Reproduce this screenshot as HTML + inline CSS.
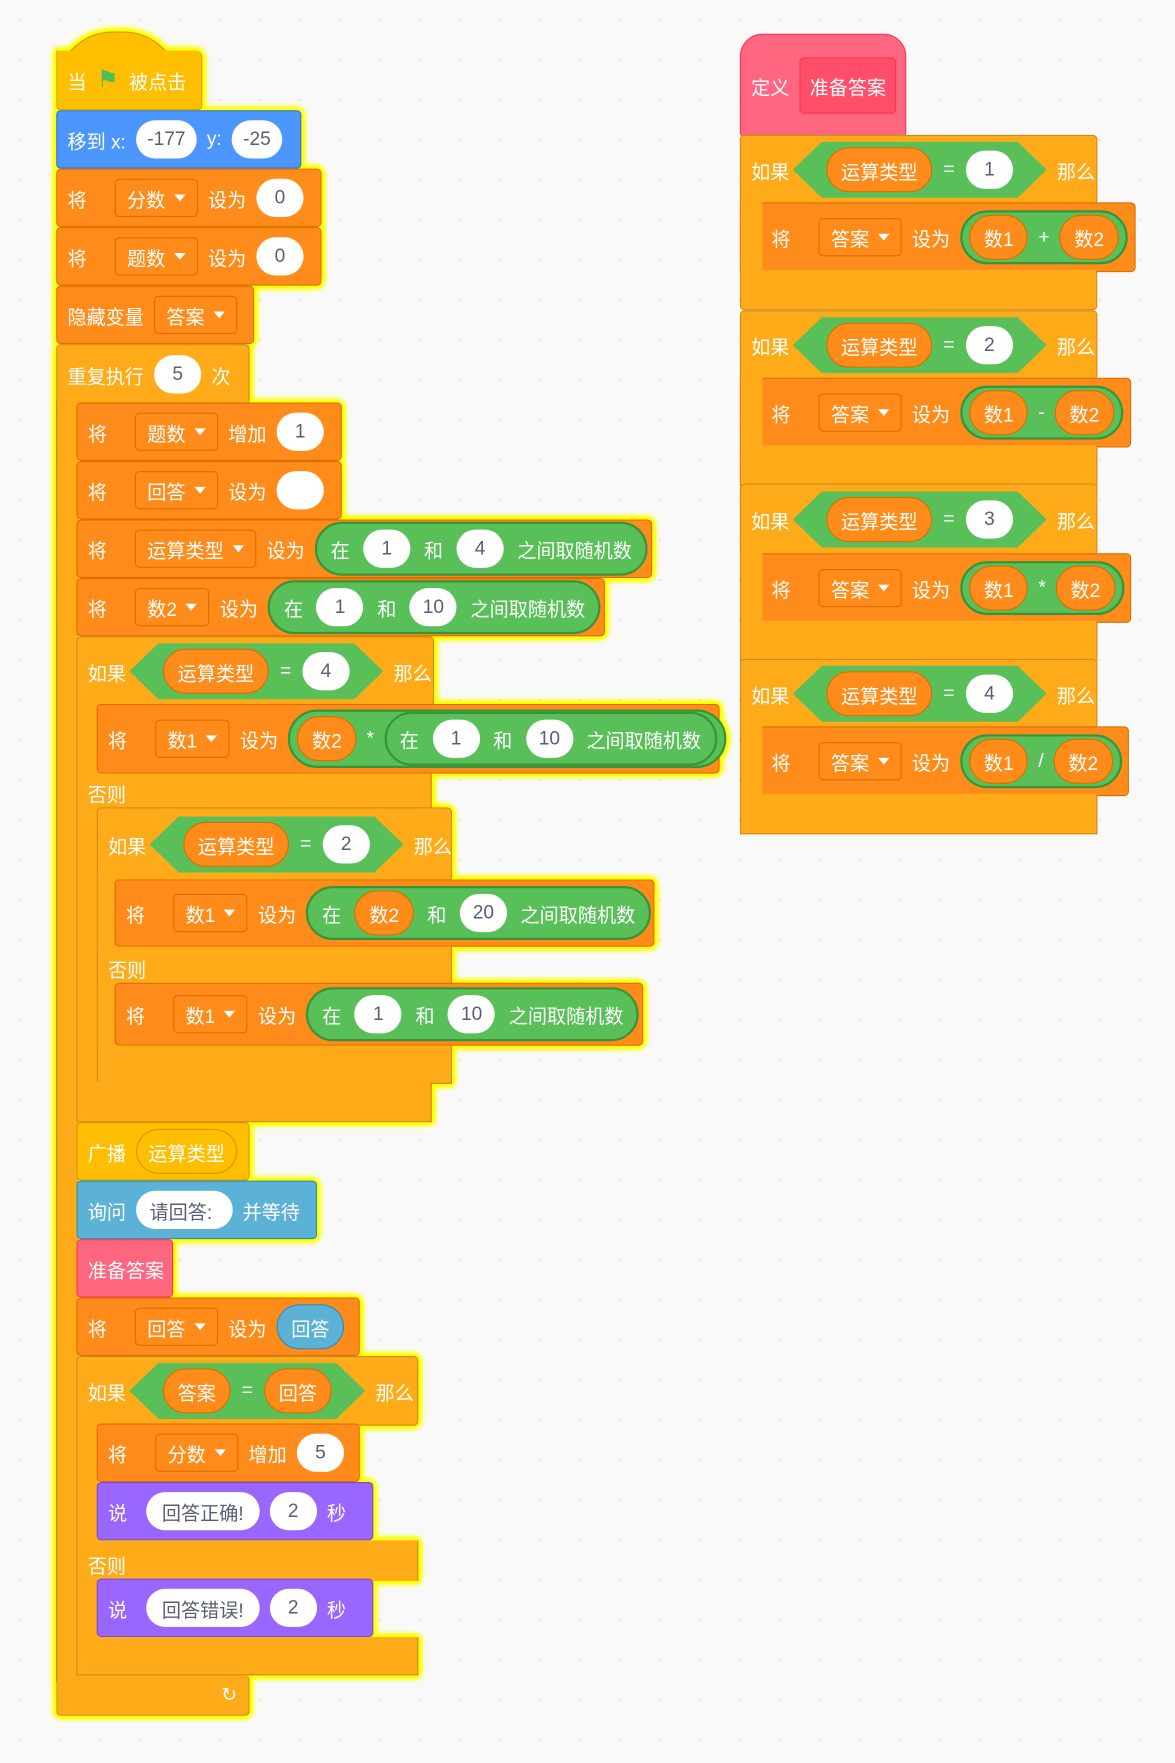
<!DOCTYPE html>
<html><head><meta charset="utf-8">
<style>
html,body{margin:0;padding:0;}
body{width:1175px;height:1763px;overflow:hidden;background:#f9f9f9;
background-image:radial-gradient(#e4e4e4 1px,transparent 1.5px);background-size:40px 40px;}
#s{position:absolute;left:0;top:0;width:1045px;height:1568px;transform:scale(1.12440);transform-origin:0 0;
font-family:"Liberation Sans","Noto Sans CJK SC",sans-serif;font-size:17px;color:#fff;}
.g{position:absolute;left:0;top:0;}
#L{filter:drop-shadow(0 0 2px #ff0) drop-shadow(0 0 2px #ff0) drop-shadow(0 0 2px #ff0) drop-shadow(0 0 1px #ff0);}
.b{position:absolute;box-sizing:border-box;display:flex;align-items:center;gap:9px;padding-left:9px;border-radius:4px;white-space:nowrap;}
.p{position:absolute;box-sizing:border-box;}
.ev{background:#ffbf00;border:1px solid #cc9900}
.mo{background:#4c97ff;border:1px solid #3373cc}
.va{background:#ff8c1a;border:1px solid #db6e00}
.co{background:#ffab19;border:1px solid #cf8b17}
.op{background:#59c059;border:1px solid #389438}
.se{background:#5cb1d6;border:1px solid #2e8eb8}
.pk{background:#ff6680;border:1px solid #ff3355}
.lo{background:#9966ff;border:1px solid #774dcb}
.n{background:#fff;color:#575e75;border-radius:17px;height:34px;min-width:42px;padding:0 10px;box-sizing:border-box;display:flex;align-items:center;justify-content:center;}
.dd{background:#ff8c1a;border:1px solid #db6e00;border-radius:4px;height:34px;padding:0 10px;display:flex;align-items:center;gap:8px;box-sizing:border-box}
.dd:after{content:"";border-left:5px solid transparent;border-right:5px solid transparent;border-top:6px solid #fff;}
.r{background:#ff8c1a;border:1px solid #db6e00;border-radius:20px;height:40px;padding:0 12px;display:flex;align-items:center;box-sizing:border-box}
.rs{background:#5cb1d6;border:1px solid #2e8eb8;border-radius:20px;height:40px;padding:0 12px;display:flex;align-items:center;box-sizing:border-box}
.ro{background:#59c059;border:2px solid #389438;border-radius:24px;height:48px;padding:0 12px;display:flex;align-items:center;gap:12px;box-sizing:border-box}
.ro2{padding:0 6px;gap:9px}
.hx{background:#59c059;height:50px;padding:0 30px;display:flex;align-items:center;gap:10px;clip-path:polygon(0 50%,26px 0,calc(100% - 26px) 0,100% 50%,calc(100% - 26px) 100%,26px 100%);}
</style></head><body>
<div id="s">
<div class="g" id="L">
<div class="p ev" style="left:50px;top:28px;width:110px;height:50px;border-radius:55px 55px 0 0;border-bottom:none"></div>
<div class="b ev" style="left:50px;top:45px;width:130px;height:53px;border-top:none;border-radius:0 6px 4px 4px">当 <span style="color:#4cbf56;font-size:22px">⚑</span> 被点击</div>
<div class="b mo" style="left:50px;top:98px;width:218px;height:52px">移到 x: <span class="n">-177</span> y: <span class="n">-25</span></div>
<div class="b va" style="left:50px;top:150px;width:236px;height:52px">将 <span class="dd" style="margin-left:16px">分数</span> 设为 <span class="n">0</span></div>
<div class="b va" style="left:50px;top:202px;width:236px;height:52px">将 <span class="dd" style="margin-left:16px">题数</span> 设为 <span class="n">0</span></div>
<div class="b va" style="left:50px;top:254px;width:176px;height:52px">隐藏变量 <span class="dd">答案</span></div>
<div class="b co" style="left:50px;top:306px;width:172px;height:54px">重复执行 <span class="n">5</span> 次</div>
<div class="p co" style="left:50px;top:356px;width:20px;height:1140px;border-top:none;border-bottom:none;border-right:none;border-radius:0"></div>
<div class="b co" style="left:50px;top:1490px;width:172px;height:36px;justify-content:flex-end;padding-right:10px;border-top:none">↻</div>
<div class="b va" style="left:68px;top:358px;width:236px;height:52px">将 <span class="dd" style="margin-left:16px">题数</span> 增加 <span class="n">1</span></div>
<div class="b va" style="left:68px;top:410px;width:236px;height:52px">将 <span class="dd" style="margin-left:16px">回答</span> 设为 <span class="n"></span></div>
<div class="b va" style="left:68px;top:462px;width:512px;height:52px">将 <span class="dd" style="margin-left:16px">运算类型</span> 设为 <span class="ro">在 <span class="n">1</span> 和 <span class="n">4</span> 之间取随机数</span></div>
<div class="b va" style="left:68px;top:514px;width:470px;height:52px">将 <span class="dd" style="margin-left:16px">数2</span> 设为 <span class="ro">在 <span class="n">1</span> 和 <span class="n">10</span> 之间取随机数</span></div>
<div class="b co" style="left:68px;top:566px;width:318px;height:62px">如果 <span class="hx" style="margin-left:-6px"><span class="r">运算类型</span> = <span class="n">4</span></span> 那么</div>
<div class="p co" style="left:68px;top:624px;width:20px;height:340px;border-top:none;border-bottom:none;border-right:none;border-radius:0"></div>
<div class="b va" style="left:86px;top:626px;width:554px;height:62px">将 <span class="dd" style="margin-left:16px">数1</span> 设为 <span class="ro ro2" style="height:52px;border-radius:26px"><span class="r">数2</span> * <span class="ro">在 <span class="n">1</span> 和 <span class="n">10</span> 之间取随机数</span></span></div>
<div class="b co" style="left:68px;top:688px;width:316px;height:32px;border-top:none;border-bottom:none;border-radius:0;align-items:flex-end;padding-bottom:2px">否则</div>
<div class="b co" style="left:86px;top:718px;width:316px;height:66px">如果 <span class="hx" style="margin-left:-6px"><span class="r">运算类型</span> = <span class="n">2</span></span> 那么</div>
<div class="p co" style="left:86px;top:780px;width:18px;height:152px;border-top:none;border-bottom:none;border-right:none;border-radius:0"></div>
<div class="b va" style="left:102px;top:782px;width:480px;height:60px">将 <span class="dd" style="margin-left:16px">数1</span> 设为 <span class="ro">在 <span class="r">数2</span> 和 <span class="n">20</span> 之间取随机数</span></div>
<div class="b co" style="left:86px;top:842px;width:316px;height:34px;border-top:none;border-bottom:none;border-radius:0;align-items:flex-end;padding-bottom:2px">否则</div>
<div class="b va" style="left:102px;top:874px;width:470px;height:56px">将 <span class="dd" style="margin-left:16px">数1</span> 设为 <span class="ro">在 <span class="n">1</span> 和 <span class="n">10</span> 之间取随机数</span></div>
<div class="p co" style="left:86px;top:930px;width:316px;height:34px;border-top:none"></div>
<div class="p co" style="left:68px;top:962px;width:316px;height:36px;border-top:none"></div>
<div class="b ev" style="left:68px;top:998px;width:154px;height:52px">广播 <span class="r" style="background:#ffbf00;border-color:#cc9900;padding:0 10px">运算类型</span></div>
<div class="b se" style="left:68px;top:1050px;width:214px;height:52px">询问 <span class="n" style="padding:0 18px 0 12px">请回答:</span> 并等待</div>
<div class="b pk" style="left:68px;top:1102px;width:86px;height:52px">准备答案</div>
<div class="b va" style="left:68px;top:1154px;width:252px;height:52px">将 <span class="dd" style="margin-left:16px">回答</span> 设为 <span class="rs">回答</span></div>
<div class="b co" style="left:68px;top:1206px;width:304px;height:62px">如果 <span class="hx" style="margin-left:-6px"><span class="r">答案</span> = <span class="r">回答</span></span> 那么</div>
<div class="p co" style="left:68px;top:1264px;width:20px;height:196px;border-top:none;border-bottom:none;border-right:none;border-radius:0"></div>
<div class="b va" style="left:86px;top:1266px;width:234px;height:52px">将 <span class="dd" style="margin-left:16px">分数</span> 增加 <span class="n">5</span></div>
<div class="b lo" style="left:86px;top:1318px;width:246px;height:52px">说 <span class="n" style="margin-left:8px;padding:0 14px">回答正确!</span> <span class="n">2</span> 秒</div>
<div class="b co" style="left:68px;top:1370px;width:304px;height:36px;border-top:none;border-bottom:none;border-radius:0;align-items:flex-end;padding-bottom:2px">否则</div>
<div class="b lo" style="left:86px;top:1404px;width:246px;height:52px">说 <span class="n" style="margin-left:8px;padding:0 14px">回答错误!</span> <span class="n">2</span> 秒</div>
<div class="p co" style="left:68px;top:1456px;width:304px;height:34px;border-top:none"></div>
</div>

<div class="g">
<div class="b pk" style="left:658px;top:30px;width:148px;height:92px;border-radius:20px 20px 4px 4px">定义 <span style="background:#ff4d6a;border:1px solid #ff3355;border-radius:4px;height:48px;padding:0 8px;display:flex;align-items:center">准备答案</span></div>

<div class="b co" style="left:658px;top:120px;width:318px;height:62px">如果 <span class="hx" style="margin-left:-6px"><span class="r">运算类型</span> = <span class="n">1</span></span> 那么</div>
<div class="b va" style="left:676px;top:180px;width:334px;height:62px">将 <span class="dd" style="margin-left:16px">答案</span> 设为 <span class="ro ro2"><span class="r">数1</span> + <span class="r">数2</span></span></div>
<div class="p co" style="left:658px;top:240px;width:318px;height:36px;border-top:none;border-radius:0 0 4px 4px"></div>
<div class="p co" style="left:658px;top:178px;width:20px;height:64px;border:none;border-left:1px solid #cf8b17;border-radius:0"></div>

<div class="b co" style="left:658px;top:276px;width:318px;height:62px">如果 <span class="hx" style="margin-left:-6px"><span class="r">运算类型</span> = <span class="n">2</span></span> 那么</div>
<div class="b va" style="left:676px;top:336px;width:330px;height:62px">将 <span class="dd" style="margin-left:16px">答案</span> 设为 <span class="ro ro2"><span class="r">数1</span> - <span class="r">数2</span></span></div>
<div class="p co" style="left:658px;top:396px;width:318px;height:36px;border-top:none"></div>
<div class="p co" style="left:658px;top:334px;width:20px;height:64px;border:none;border-left:1px solid #cf8b17;border-radius:0"></div>

<div class="b co" style="left:658px;top:430px;width:318px;height:64px">如果 <span class="hx" style="margin-left:-6px"><span class="r">运算类型</span> = <span class="n">3</span></span> 那么</div>
<div class="b va" style="left:676px;top:492px;width:330px;height:62px">将 <span class="dd" style="margin-left:16px">答案</span> 设为 <span class="ro ro2"><span class="r">数1</span> * <span class="r">数2</span></span></div>
<div class="p co" style="left:658px;top:552px;width:318px;height:36px;border-top:none"></div>
<div class="p co" style="left:658px;top:490px;width:20px;height:64px;border:none;border-left:1px solid #cf8b17;border-radius:0"></div>

<div class="b co" style="left:658px;top:586px;width:318px;height:62px">如果 <span class="hx" style="margin-left:-6px"><span class="r">运算类型</span> = <span class="n">4</span></span> 那么</div>
<div class="b va" style="left:676px;top:646px;width:328px;height:62px">将 <span class="dd" style="margin-left:16px">答案</span> 设为 <span class="ro ro2"><span class="r">数1</span> / <span class="r">数2</span></span></div>
<div class="p co" style="left:658px;top:706px;width:318px;height:36px;border-top:none"></div>
<div class="p co" style="left:658px;top:644px;width:20px;height:64px;border:none;border-left:1px solid #cf8b17;border-radius:0"></div>
</div>
</div>
</body></html>
